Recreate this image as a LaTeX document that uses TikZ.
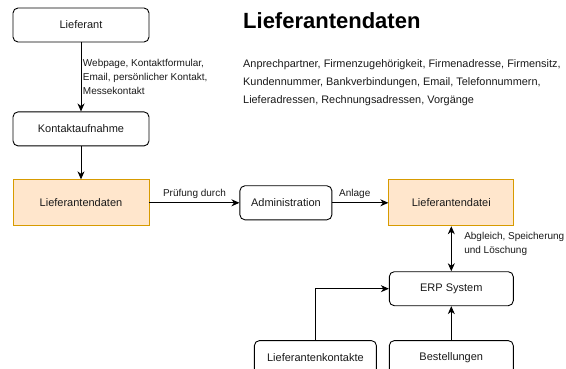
\documentclass[tikz,border=0pt]{standalone}
\usepackage{fontspec}
\setmainfont{Liberation Sans}
\usetikzlibrary{positioning, arrows.meta}
\definecolor{ofill}{HTML}{FFE6CC}
\definecolor{odraw}{HTML}{D79B00}

\begin{document}
\begin{tikzpicture}[x=1pt, y=-1pt,
  box/.style={draw, rounded corners=5pt, minimum width=136pt, minimum height=34pt,
              fill=white, line width=0.9pt, inner sep=0pt, align=center,
              font=\fontsize{11}{13}\selectfont, text=black!90},
  datbox/.style={draw=odraw, fill=ofill, minimum width=136pt, minimum height=46pt,
                 line width=0.9pt, inner sep=0pt, align=center,
                 font=\fontsize{11}{13}\selectfont, text=black!90},
  arr/.style={-{Stealth[length=8pt, width=7pt, inset=2.5pt]}, line width=0.9pt},
  dblarr/.style={{Stealth[length=8pt, width=7pt, inset=2.5pt]}-{Stealth[length=8pt, width=7pt, inset=2.5pt]}, line width=0.9pt},
  lbl/.style={font=\fontsize{10}{14}\selectfont, text=black!90, inner sep=1.5pt, align=left},
  titel/.style={font=\fontsize{22}{26}\selectfont\bfseries, inner sep=0pt, anchor=west},
  body/.style={font=\fontsize{10.9}{18}\selectfont, text=black!90, inner sep=0pt, align=left},
]
\useasboundingbox (0,0) rectangle (566,369);

% Left column
\node[box] (lief) at (81,25) {Lieferant};
\node[box, below=69pt of lief] (kontakt) {Kontaktaufnahme};
\node[datbox, below=33pt of kontakt] (ldaten) {Lieferantendaten};

% Middle row
\node[box, minimum width=92pt, right=90pt of ldaten] (admin) {Administration};
\node[datbox, minimum width=125pt, right=56pt of admin] (ldatei) {Lieferantendatei};

% ERP and sources
\node[box, minimum width=124pt, below=45pt of ldatei] (erp) {ERP System};
\node[box, minimum width=124pt, below=34pt of erp] (bestell) {Bestellungen};
\node[box, minimum width=122pt, left=12pt of bestell] (lkontakte) {Lieferantenkontakte};

% Heading and data list
\node[titel] (titel) at (243,21) {Lieferantendaten};
\node[body, anchor=north west] (liste) at (243,59) {Anprechpartner, Firmenzugehörigkeit, Firmenadresse, Firmensitz,\\
  Kundennummer, Bankverbindungen, Email, Telefonnummern,\\
  Lieferadressen, Rechnungsadressen, Vorgänge};

% Arrows
\draw[arr] (lief) -- node[lbl, right] {Webpage, Kontaktformular,\\ Email, persönlicher Kontakt,\\ Messekontakt} (kontakt);
\draw[arr] (kontakt) -- (ldaten);
\draw[arr] (ldaten) -- node[lbl, above=2pt] {Prüfung durch} (admin);
\draw[arr] (admin) -- node[lbl, above=2pt, pos=0.4] {Anlage} (ldatei);
\draw[dblarr] (ldatei) -- node[lbl, right=11pt, yshift=5pt] {Abgleich, Speicherung\\ und Löschung} (erp);
\draw[arr] (bestell) -- (erp);
\draw[arr] (lkontakte.north) |- (erp.west);

\end{tikzpicture}
\end{document}
